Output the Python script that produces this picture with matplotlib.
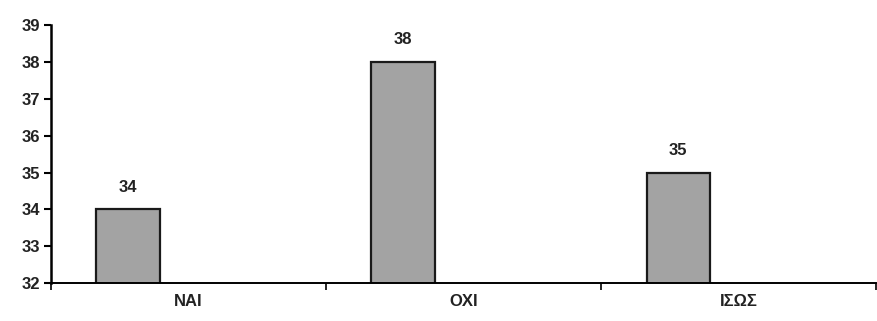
import matplotlib
matplotlib.use("Agg")
from matplotlib import pyplot as plt

categories = ["ΝΑΙ", "ΟΧΙ", "ΙΣΩΣ"]
values = [34, 38, 35]
y_ticks = [32, 33, 34, 35, 36, 37, 38, 39]

plt.rcParams['font.family'] = ['Liberation Sans', 'DejaVu Sans']

fig = plt.figure(figsize=(8.78, 3.21), dpi=100)
ax = fig.add_axes([0.058, 0.118, 0.94, 0.804])

positions = [i - 0.22 for i in range(len(categories))]
bars = ax.bar(positions, values, width=0.23, bottom=0,
              color='#a3a3a3', edgecolor='#1a1a1a', linewidth=1.6)

for b, v in zip(bars, values):
    ax.text(b.get_x() + b.get_width() / 2, v + 0.4, str(v),
            ha='center', va='bottom', fontsize=12, fontweight='bold',
            color='#222222')

ax.set_ylim(32, 39)
ax.set_xlim(-0.5, 2.5)
ax.set_yticks(y_ticks)
ax.set_yticklabels([str(t) for t in y_ticks], fontsize=12, fontweight='bold',
                   color='#222222')

ax.set_xticks(range(len(categories)))
ax.set_xticklabels(categories, fontsize=12, fontweight='bold', color='#222222')
ax.tick_params(axis='x', which='major', length=0, pad=8)
ax.set_xticks([-0.5, 0.5, 1.5, 2.5], minor=True)
ax.tick_params(axis='x', which='minor', length=5, width=1.2, direction='out')
ax.tick_params(axis='y', length=5, width=1.5, direction='out', pad=3)

for s in ['top', 'right']:
    ax.spines[s].set_visible(False)
ax.spines['left'].set_linewidth(1.8)
ax.spines['bottom'].set_linewidth(1.4)

fig.savefig("out.png", dpi=100)
